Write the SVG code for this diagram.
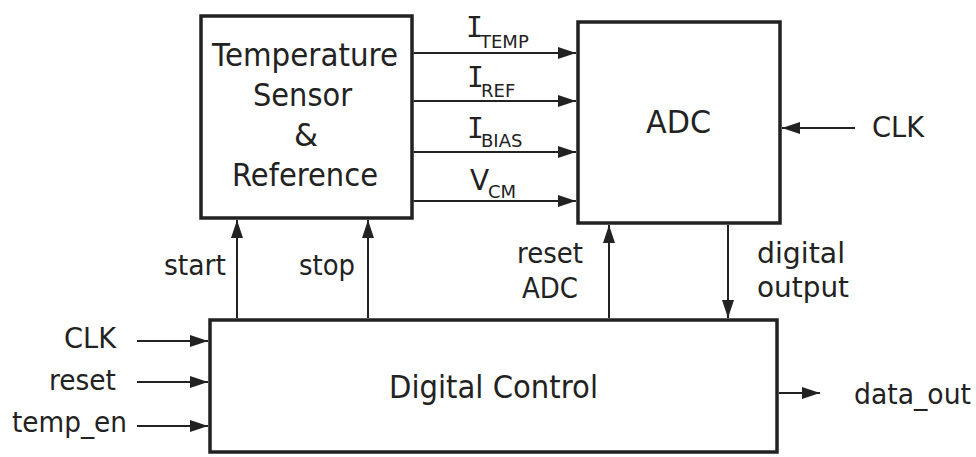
<svg xmlns="http://www.w3.org/2000/svg" width="976" height="457" viewBox="0 0 976 457">
  <defs>
    <marker id="ah" markerUnits="userSpaceOnUse" markerWidth="18" markerHeight="12" refX="18" refY="6" orient="auto">
      <path d="M0,0 L18,6 L0,12 Z" fill="#222"/>
    </marker>
    <style>
      .box{fill:#fff;stroke:#222;stroke-width:3.5}
      .t{font-family:"DejaVu Sans",Verdana,sans-serif;fill:#222}
      .big{font-size:32px}
      .lbl{font-size:27.5px}
      .sub{font-size:18px}
      .mono{font-family:"DejaVu Sans Mono",monospace;font-size:28px}
      .main{font-size:28px}
      .w{stroke:#222;stroke-width:2;fill:none;marker-end:url(#ah)}
    </style>
  </defs>
  <rect width="976" height="457" fill="#fff"/>

  <g id="temp-sensor">
    <rect class="box" x="201" y="16" width="211" height="202"/>
    <text class="t big" x="212" y="66" textLength="186" lengthAdjust="spacingAndGlyphs">Temperature</text>
    <text class="t big" x="253" y="106" textLength="99" lengthAdjust="spacingAndGlyphs">Sensor</text>
    <text class="t big" x="294" y="146" textLength="24" lengthAdjust="spacingAndGlyphs">&amp;</text>
    <text class="t big" x="232" y="186" textLength="146" lengthAdjust="spacingAndGlyphs">Reference</text>
  </g>

  <g id="adc">
    <rect class="box" x="578" y="22" width="202" height="201"/>
    <text class="t big" x="646" y="133" textLength="65" lengthAdjust="spacingAndGlyphs">ADC</text>
  </g>

  <g id="digital-control">
    <rect class="box" x="210" y="320" width="567" height="132"/>
    <text class="t big" x="389" y="398" textLength="209" lengthAdjust="spacingAndGlyphs">Digital Control</text>
  </g>

  <g id="connectors">
    <line class="w" x1="413.5" y1="53" x2="576" y2="53"/>
    <line class="w" x1="413.5" y1="101" x2="576" y2="101"/>
    <line class="w" x1="413.5" y1="152" x2="576" y2="152"/>
    <line class="w" x1="413.5" y1="201" x2="576" y2="201"/>
    <line class="w" x1="855" y1="128" x2="782" y2="128"/>
    <line class="w" x1="237" y1="318" x2="237" y2="220"/>
    <line class="w" x1="368" y1="318" x2="368" y2="220"/>
    <line class="w" x1="609" y1="318" x2="609" y2="225"/>
    <line class="w" x1="728" y1="225" x2="728" y2="318"/>
    <line class="w" x1="137" y1="341" x2="208" y2="341"/>
    <line class="w" x1="137" y1="382" x2="208" y2="382"/>
    <line class="w" x1="137" y1="426" x2="208" y2="426"/>
    <line class="w" x1="779" y1="393" x2="820" y2="393"/>
  </g>

  <g id="labels">
    <text class="t"><tspan class="mono" x="466" y="37">I</tspan><tspan class="sub" x="480" y="48">TEMP</tspan></text>
    <text class="t"><tspan class="mono" x="467" y="87">I</tspan><tspan class="sub" x="481" y="97">REF</tspan></text>
    <text class="t"><tspan class="mono" x="467" y="138">I</tspan><tspan class="sub" x="481" y="147">BIAS</tspan></text>
    <text class="t"><tspan class="main" x="470" y="190">V</tspan><tspan class="sub" x="488" y="198">CM</tspan></text>
    <text class="t lbl" x="872" y="137" textLength="52" lengthAdjust="spacingAndGlyphs">CLK</text>
    <text class="t lbl" x="164" y="275" textLength="62" lengthAdjust="spacingAndGlyphs">start</text>
    <text class="t lbl" x="299" y="275" textLength="56" lengthAdjust="spacingAndGlyphs">stop</text>
    <text class="t lbl" x="517" y="263" textLength="66" lengthAdjust="spacingAndGlyphs">reset</text>
    <text class="t lbl" x="522" y="298" textLength="56" lengthAdjust="spacingAndGlyphs">ADC</text>
    <text class="t lbl" x="757" y="263" textLength="88" lengthAdjust="spacingAndGlyphs">digital</text>
    <text class="t lbl" x="757" y="297" textLength="92" lengthAdjust="spacingAndGlyphs">output</text>
    <text class="t lbl" x="64" y="348" textLength="52" lengthAdjust="spacingAndGlyphs">CLK</text>
    <text class="t lbl" x="49" y="390" textLength="67" lengthAdjust="spacingAndGlyphs">reset</text>
    <text class="t lbl" x="12" y="432" textLength="115" lengthAdjust="spacingAndGlyphs">temp_en</text>
    <text class="t lbl" x="854" y="404" textLength="117" lengthAdjust="spacingAndGlyphs">data_out</text>
  </g>
</svg>
